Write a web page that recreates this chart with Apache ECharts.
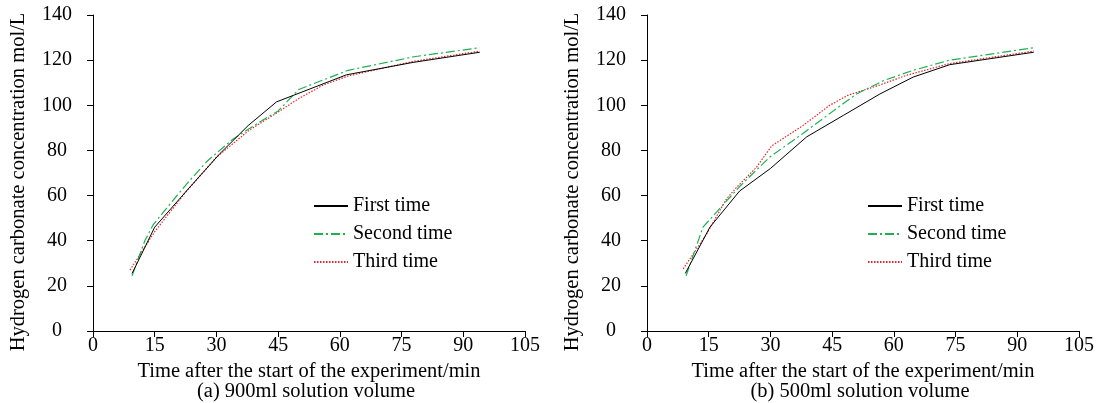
<!DOCTYPE html>
<html>
<head>
<meta charset="utf-8">
<script src="https://cdn.jsdelivr.net/npm/echarts@6/dist/echarts.min.js"></script>
<style>
  html, body { margin: 0; padding: 0; background: #fff; }
  #chart { width: 1100px; height: 403px; }
</style>
</head>
<body>
<div id="chart"></div>
<script>
// Hydrogen carbonate concentration over time, three repeated runs per solution volume.
const seriesNames = ['First time', 'Second time', 'Third time'];
const xTicks = [0, 15, 30, 45, 60, 75, 90, 105];
const yTicks = [0, 20, 40, 60, 80, 100, 120, 140];

// (a) 900 ml solution volume
const firstA_t = [9.5, 15, 22.7, 30.8, 37.7, 44.6, 61.6, 77.8, 94];
const firstA_c = [25.5, 46, 62, 78.5, 91, 101.5, 113.5, 119, 123.5];
const secondA_t = [9.5, 12.6, 14.6, 18.6, 22.7, 27.6, 34, 41.3, 45, 50, 62, 78, 94];
const secondA_c = [24.5, 40, 47, 56, 65, 75, 85, 93.5, 97.5, 107, 115.5, 121.5, 125.5];
const thirdA_t = [9, 15, 22.5, 30, 38, 45, 50, 56, 62, 78, 94];
const thirdA_c = [27, 44, 61.5, 77, 89, 97, 103, 109, 113, 119.5, 124];

// (b) 500 ml solution volume
const firstB_t = [9.3, 15.3, 22.5, 30, 38.8, 47.7, 56.6, 64.7, 73.6, 94];
const firstB_c = [25.5, 46, 62, 72, 86, 95.5, 105, 112.5, 118, 123.5];
const secondB_t = [9.5, 13.6, 22.5, 29.8, 37.9, 44.4, 50.9, 57.6, 64.7, 73.6, 94];
const secondB_c = [24.5, 46, 64, 77, 87.5, 96.3, 105, 111, 115.5, 120, 125.5];
const thirdB_t = [8.8, 14.5, 19.3, 21.7, 26.6, 30.3, 37.9, 44.4, 48.9, 56.6, 63.1, 73.6, 94];
const thirdB_c = [27.5, 43, 58.5, 63.5, 72.5, 82, 91, 100, 104.5, 109, 113.3, 118.5, 124];

const xName = 'Time after the start of the experiment/min';
const yName = 'Hydrogen carbonate concentration mol/L';
const captions = ['(a) 900ml solution volume', '(b) 500ml solution volume'];

const FONT = '"Liberation Serif", "Times New Roman", serif';
const FS = 20;
const FS_NAME = 20.5;
const lineStyles = [
  { color: '#000000', width: 1, type: 'solid' },
  { color: '#1fb14f', width: 1.2, type: [9, 3, 2, 3] },
  { color: '#e3262c', width: 1.2, type: [1.5, 1.5] }
];

function pairs(t, c) { return t.map((v, i) => [v, c[i]]); }

const panels = [
  [pairs(firstA_t, firstA_c), pairs(secondA_t, secondA_c), pairs(thirdA_t, thirdA_c)],
  [pairs(firstB_t, firstB_c), pairs(secondB_t, secondB_c), pairs(thirdB_t, thirdB_c)]
];

const grids = [
  { left: 93, right: 575, top: 15, bottom: 72 },
  { left: 647, right: 21, top: 15, bottom: 72 }
];

const axisLine = { show: true, lineStyle: { color: '#000', width: 1 } };
const axisTick = { show: true, length: 6, lineStyle: { color: '#000' } };
const labelStyle = { color: '#000', fontFamily: FONT, fontSize: FS };

const option = {
  animation: false,
  backgroundColor: '#fff',
  grid: grids,
  title: captions.map((txt, i) => ({
    text: txt,
    left: i === 0 ? 306 : 860,
    textAlign: 'center',
    top: 381,
    padding: 0,
    textStyle: { fontFamily: FONT, fontSize: FS_NAME, fontWeight: 'normal', color: '#000' }
  })),
  legend: [313, 867].map((x) => ({
    data: seriesNames,
    orient: 'vertical',
    left: x,
    top: 196,
    padding: 0,
    itemWidth: 34,
    itemHeight: 14,
    itemGap: 8,
    itemStyle: { opacity: 0 },
    textStyle: { fontFamily: FONT, fontSize: FS, color: '#000' },
    selectedMode: false
  })),
  xAxis: grids.map((g, i) => ({
    type: 'value',
    gridIndex: i,
    min: 0, max: 105, interval: 15,
    name: xName,
    nameLocation: 'middle',
    nameGap: 25,
    nameTextStyle: { fontFamily: FONT, fontSize: FS_NAME, color: '#000' },
    axisLine, axisTick,
    axisLabel: Object.assign({ margin: 5 }, labelStyle),
    splitLine: { show: false }
  })),
  yAxis: grids.map((g, i) => ({
    type: 'value',
    gridIndex: i,
    min: 0, max: 140, interval: 20,
    name: yName,
    nameLocation: 'middle',
    nameGap: 64,
    nameTextStyle: { fontFamily: FONT, fontSize: FS_NAME, color: '#000', padding: [0, 18, 0, 0] },
    axisLine, axisTick,
    axisLabel: Object.assign({ margin: 36, align: 'center' }, labelStyle),
    splitLine: { show: false }
  })),
  series: []
};

panels.forEach((sets, p) => {
  sets.forEach((data, k) => {
    option.series.push({
      type: 'line',
      name: seriesNames[k],
      xAxisIndex: p,
      yAxisIndex: p,
      data: data,
      symbol: 'none',
      smooth: false,
      lineStyle: lineStyles[k],
      itemStyle: { color: lineStyles[k].color },
      z: 3 - k
    });
  });
});

const chart = echarts.init(document.getElementById('chart'), null, { renderer: 'canvas' });
chart.setOption(option);
</script>
</body>
</html>
